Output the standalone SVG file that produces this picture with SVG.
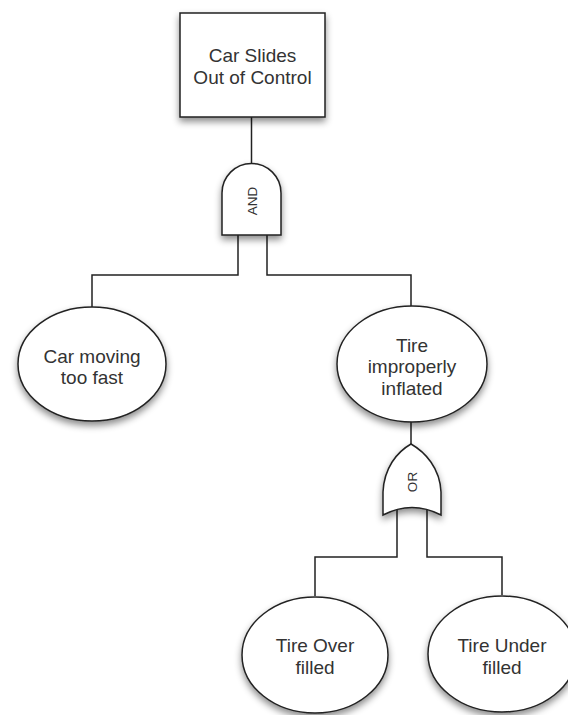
<svg xmlns="http://www.w3.org/2000/svg" width="568" height="715" viewBox="0 0 568 715">
<style>
.shape{fill:#fff;stroke:#222;stroke-width:1.5;filter:url(#sh)}
.conn{fill:none;stroke:#222;stroke-width:1.5}
.t{font-family:"Liberation Sans",Arial,sans-serif;font-size:19px;fill:#333;text-anchor:middle}
.g{font-family:"Liberation Sans",Arial,sans-serif;font-size:13.5px;fill:#333;text-anchor:middle;dominant-baseline:central}
</style>
<defs>
<filter id="sh" x="-30%" y="-30%" width="160%" height="170%">
<feDropShadow dx="0" dy="4" stdDeviation="3.5" flood-color="#000" flood-opacity="0.45"/>
</filter>
</defs>
<rect width="568" height="715" fill="#fff"/>
<g id="connectors">
<path class="conn" d="M251.5,117 V163"/>
<path class="conn" d="M238,235 V275 H92 V307"/>
<path class="conn" d="M267,235 V275 H411 V306"/>
<path class="conn" d="M411,422 V444"/>
<path class="conn" d="M397,510 V557 H315 V596"/>
<path class="conn" d="M427,510 V557 H502 V595"/>
</g>
<g id="top">
<rect class="shape" x="180" y="13" width="145" height="104"/>
<text class="t" x="252.5" y="62">Car Slides</text>
<text class="t" x="252.5" y="84">Out of Control</text>
</g>
<g id="and-gate">
<path class="shape" d="M222,235 V193 A29.5,29.5 0 0 1 281,193 V235 Z"/>
<text class="g" transform="translate(252,201) rotate(-90)">AND</text>
</g>
<g id="car-fast">
<ellipse class="shape" cx="92" cy="364" rx="74" ry="57"/>
<text class="t" x="92" y="363">Car moving</text>
<text class="t" x="92" y="384">too fast</text>
</g>
<g id="tire-improper">
<ellipse class="shape" cx="412" cy="364" rx="75" ry="58"/>
<text class="t" x="412" y="352">Tire</text>
<text class="t" x="412" y="373">improperly</text>
<text class="t" x="412" y="395">inflated</text>
</g>
<g id="or-gate">
<path class="shape" d="M411,444 C425,452 440,468 441,492 L441,515 Q412,500 383,515 L383,492 C384,468 397,452 411,444 Z"/>
<text class="g" transform="translate(412,482) rotate(-90)">OR</text>
</g>
<g id="tire-over">
<ellipse class="shape" cx="315" cy="655" rx="73" ry="58"/>
<text class="t" x="315" y="652">Tire Over</text>
<text class="t" x="315" y="674">filled</text>
</g>
<g id="tire-under">
<ellipse class="shape" cx="502" cy="654" rx="74" ry="58"/>
<text class="t" x="502" y="652">Tire Under</text>
<text class="t" x="502" y="674">filled</text>
</g>
</svg>
